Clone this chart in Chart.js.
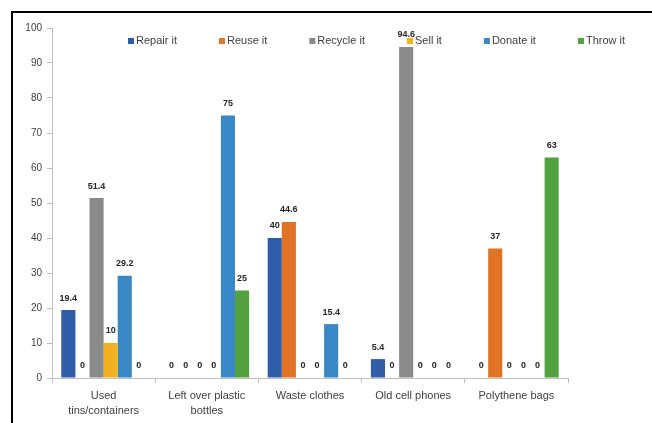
<!DOCTYPE html>
<html>
<head>
<meta charset="utf-8">
<script src="https://cdn.jsdelivr.net/npm/chart.js@4.4.1/dist/chart.umd.min.js"></script>
<style>
  html, body { margin: 0; padding: 0; background: #fff; }
  #wrap { width: 652px; height: 423px; position: relative; }
</style>
</head>
<body>
<div id="wrap"><canvas id="wasteChart" width="652" height="423"></canvas></div>
<script>
// categories and series
const categories = [['Used', 'tins/containers'], ['Left over plastic', 'bottles'], 'Waste clothes', 'Old cell phones', 'Polythene bags'];
const seriesNames = ['Repair it', 'Reuse it', 'Recycle it', 'Sell it', 'Donate it', 'Throw it'];
const repairIt  = [19.4, 0, 40, 5.4, 0];
const reuseIt   = [0, 0, 44.6, 0, 37];
const recycleIt = [51.4, 0, 0, 94.6, 0];
const sellIt    = [10, 0, 0, 0, 0];
const donateIt  = [29.2, 75, 15.4, 0, 0];
const throwIt   = [0, 25, 0, 0, 63];
const yMin = 0, yMax = 100, yStep = 10;

const seriesValues = [repairIt, reuseIt, recycleIt, sellIt, donateIt, throwIt];
const seriesColors = ['#2F5DAA', '#E07324', '#8A8A8A', '#F2B01E', '#3A87C6', '#53A03F'];

const FONT = '"Liberation Sans", Arial, sans-serif';

// small value labels above each bar
const valueLabels = {
    id: 'valueLabels',
    afterDatasetsDraw(chart) {
        const ctx = chart.ctx;
        ctx.save();
        ctx.font = 'bold 9px ' + FONT;
        ctx.fillStyle = '#262626';
        ctx.textAlign = 'center';
        ctx.textBaseline = 'middle';
        chart.data.datasets.forEach((ds, i) => {
            const meta = chart.getDatasetMeta(i);
            meta.data.forEach((bar, j) => {
                ctx.fillText(String(ds.data[j]), bar.x, bar.y - 12);
            });
        });
        ctx.restore();
    }
};

// legend drawn over the top of the plot, like the original
const topLegend = {
    id: 'topLegend',
    afterDraw(chart) {
        const ctx = chart.ctx;
        ctx.save();
        ctx.font = '11px ' + FONT;
        ctx.textBaseline = 'middle';
        let x = 128;
        const y = 41;
        chart.data.datasets.forEach(ds => {
            ctx.fillStyle = ds.backgroundColor;
            ctx.fillRect(x, y - 3, 6, 6);
            ctx.fillStyle = '#404040';
            ctx.fillText(ds.label, x + 8, y);
            x += 8 + ctx.measureText(ds.label).width + 42;
        });
        ctx.restore();
    }
};

// black frame on top and left edge
const frame = {
    id: 'frame',
    beforeDraw(chart) {
        const ctx = chart.ctx;
        ctx.save();
        ctx.fillStyle = '#fff';
        ctx.fillRect(0, 0, chart.width, chart.height);
        ctx.fillStyle = '#000';
        ctx.fillRect(11, 11, chart.width - 11, 2);
        ctx.fillRect(11, 11, 2, chart.height - 11);
        ctx.restore();
    }
};

const ctx = document.getElementById('wasteChart').getContext('2d');
const wasteChart = new Chart(ctx, {
    type: 'bar',
    data: {
        labels: categories,
        datasets: seriesNames.map((name, i) => ({
            label: name,
            data: seriesValues[i],
            backgroundColor: seriesColors[i],
            borderWidth: 0,
            categoryPercentage: 0.82,
            barPercentage: 1.0
        }))
    },
    options: {
        responsive: false,
        animation: false,
        layout: { padding: { top: 28, right: 84, left: 0, bottom: 0 } },
        plugins: {
            legend: { display: false },
            tooltip: { enabled: false }
        },
        scales: {
            x: {
                afterFit: s => { s.height = 45; },
                grid: { drawOnChartArea: false, drawTicks: true, tickLength: 5, color: '#BFBFBF' },
                border: { color: '#BFBFBF' },
                ticks: {
                    color: '#404040',
                    font: { family: FONT, size: 11, lineHeight: 1.4 },
                    padding: 5,
                    maxRotation: 0,
                    autoSkip: false
                }
            },
            y: {
                min: yMin,
                max: yMax,
                afterFit: s => { s.width = 52; },
                grid: { drawOnChartArea: false, drawTicks: true, tickLength: 5, color: '#BFBFBF' },
                border: { color: '#BFBFBF' },
                ticks: {
                    stepSize: yStep,
                    color: '#404040',
                    font: { family: FONT, size: 10 },
                    padding: 5
                }
            }
        }
    },
    plugins: [frame, valueLabels, topLegend]
});
</script>
</body>
</html>
